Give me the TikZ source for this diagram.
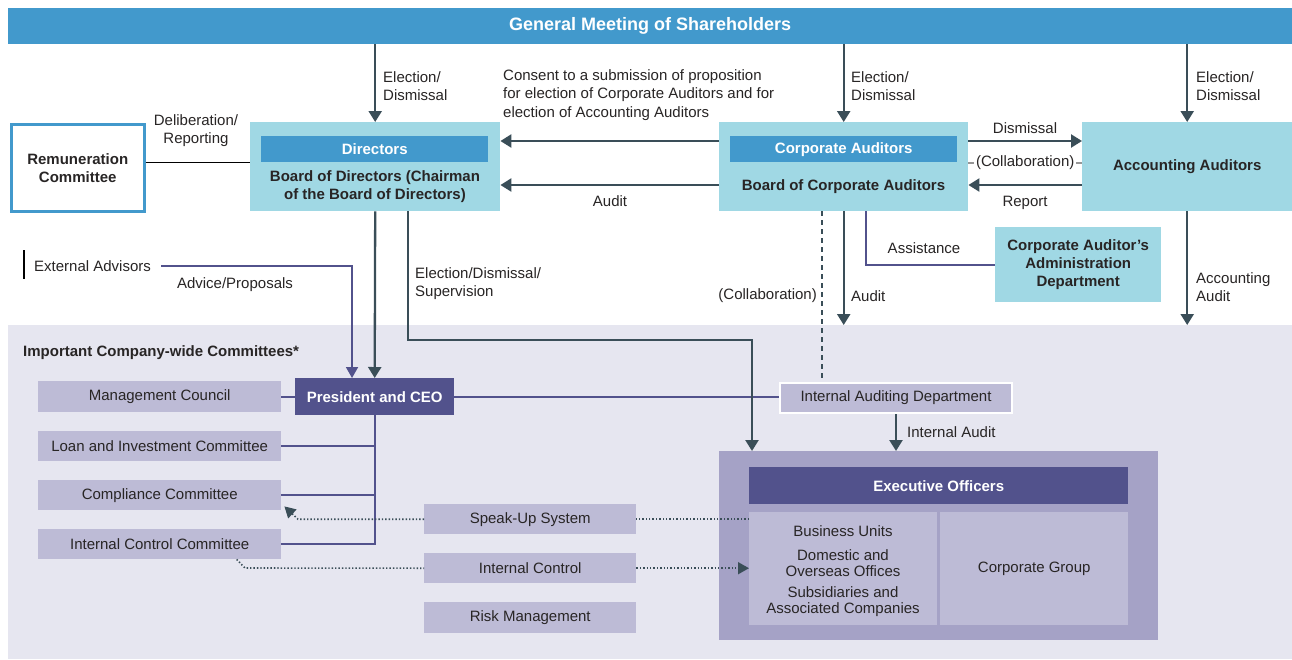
\documentclass[tikz,border=0pt]{standalone}
\usepackage{fontspec}
\setmainfont{Liberation Sans}
\usetikzlibrary{arrows.meta}
\definecolor{topblue}{RGB}{66,153,204}
\definecolor{lcyan}{RGB}{160,216,228}
\definecolor{darkl}{RGB}{58,78,88}
\definecolor{dpurp}{RGB}{82,82,140}
\definecolor{lav}{RGB}{230,230,240}
\definecolor{cfill}{RGB}{189,187,214}
\definecolor{exfill}{RGB}{165,162,198}
\definecolor{txt}{RGB}{40,37,37}
\definecolor{collgray}{RGB}{150,150,150}
\begin{document}
\begin{tikzpicture}[x=1pt,y=-1pt, font=\fontsize{15}{18}\selectfont, text=txt,
  box/.style={anchor=north west, inner sep=0pt, align=center, draw=none},
  ttl/.style={font=\fontsize{15}{18}\selectfont\bfseries, align=center, inner sep=0pt},
  lbl/.style={align=left, inner sep=0pt},
  arr/.style={draw=darkl, line width=2.3pt, -{Triangle[width=13pt,length=11pt]}},
  parr/.style={draw=dpurp, line width=1.8pt, -{Triangle[width=12pt,length=11pt]}},
  pl/.style={draw=dpurp, line width=1.8pt},
  dotl/.style={draw=darkl, line width=1.6pt, dash pattern=on 1.4pt off 2pt},
  dotarr/.style={dotl, -{Triangle[width=12pt,length=11pt]}},
  dashl/.style={draw=darkl, line width=2pt, dash pattern=on 5pt off 4pt}]
\useasboundingbox (0,0) rectangle (1292,659);
\fill[white] (0,0) rectangle (1292,659);
% backgrounds
\node[box, fill=topblue, minimum width=1284, minimum height=36] (gm) at (8,8) {};
\node[font=\fontsize{18}{21}\selectfont\bfseries, text=white] at (gm.center) {General Meeting of Shareholders};
\node[box, fill=lav, minimum width=1284, minimum height=334] (lower) at (8,325) {};
% upper boxes
\node[box, fill=white, draw=topblue, line width=2.5pt, minimum width=133, minimum height=87, ttl] (rem) at (10,123) {Remuneration\\Committee};
\node[box, fill=lcyan, minimum width=250, minimum height=89] (dir) at (250,122) {};
\node[box, fill=topblue, minimum width=227, minimum height=26, ttl, text=white] (dirbar) at (261,136) {Directors};
\node[ttl] (dirtxt) at (375,187) {Board of Directors (Chairman\\of the Board of Directors)};
\node[box, fill=lcyan, minimum width=249, minimum height=89] (ca) at (719,122) {};
\node[box, fill=topblue, minimum width=227, minimum height=26, ttl, text=white] (cabar) at (730,136) {Corporate Auditors};
\node[ttl] (catxt) at (843.5,187) {Board of Corporate Auditors};
\node[box, fill=lcyan, minimum width=210, minimum height=89, ttl] (aa) at (1082,122) {Accounting Auditors};
\node[box, fill=lcyan, minimum width=166, minimum height=75, ttl] (adm) at (995,227) {Corporate Auditor’s\\Administration\\Department};
% lower boxes
\node[anchor=west, font=\fontsize{15}{18}\selectfont\bfseries, inner sep=0pt] (icw) at (23,353) {Important Company-wide Committees*};
\node[box, fill=dpurp, minimum width=159, minimum height=37, ttl, text=white] (pres) at (295,378) {President and CEO};
\node[box, fill=cfill, minimum width=243, minimum height=31] (mc) at (38,381) {Management Council};
\node[box, fill=cfill, minimum width=243, minimum height=30] (lic) at (38,431) {Loan and Investment Committee};
\node[box, fill=cfill, minimum width=243, minimum height=30] (cc) at (38,480) {Compliance Committee};
\node[box, fill=cfill, minimum width=243, minimum height=30] (icc) at (38,529) {Internal Control Committee};
\node[box, fill=cfill, draw=white, line width=2pt, minimum width=232, minimum height=30] (iad) at (779,382) {Internal Auditing Department};
\node[box, fill=exfill, minimum width=439, minimum height=189] (exec) at (719,451) {};
\node[box, fill=dpurp, minimum width=379, minimum height=37, ttl, text=white] (eo) at (749,467) {Executive Officers};
\node[box, fill=cfill, minimum width=188, minimum height=113] (bu) at (749,512) {};
\node[box, fill=cfill, minimum width=188, minimum height=113] (cg) at (940,512) {Corporate Group};
\node[inner sep=0pt] (but) at (843,531) {Business Units};
\node[inner sep=0pt, align=center, font=\fontsize{15}{16}\selectfont] (dot) at (843,563) {Domestic and\\Overseas Offices};
\node[inner sep=0pt, align=center, font=\fontsize{15}{16}\selectfont] (sac) at (843,602) {Subsidiaries and\\Associated Companies};
\node[box, fill=cfill, minimum width=212, minimum height=30] (su) at (424,504) {Speak-Up System};
\node[box, fill=cfill, minimum width=212, minimum height=30] (ic) at (424,553) {Internal Control};
\node[box, fill=cfill, minimum width=212, minimum height=31] (rm) at (424,602) {Risk Management};
\node[anchor=west, inner sep=0pt] (ext) at (34,266) {External Advisors};
\draw[black, line width=2pt] (24,250) -- (24,279);
% labels
\node[lbl, anchor=west] at (383,86) {Election/\\Dismissal};
\node[lbl, anchor=west] at (851,86) {Election/\\Dismissal};
\node[lbl, anchor=west] at (1196,86) {Election/\\Dismissal};
\node[lbl, anchor=west, font=\fontsize{15}{18.5}\selectfont] at (503,95) {Consent to a submission of proposition\\for election of Corporate Auditors and for\\election of Accounting Auditors};
\node[inner sep=0pt] at (610,201) {Audit};
\node[inner sep=0pt] at (1025,128) {Dismissal};
\node[inner sep=0pt] at (1025,203) {Report};
\node[inner sep=0pt, align=center] at (196,131) {Deliberation/\\Reporting};
\node[lbl, anchor=west] at (415,284) {Election/Dismissal/\\Supervision};
\node[inner sep=0pt] at (235,285) {Advice/Proposals};
\node[inner sep=0pt, anchor=east] at (817,296) {(Collaboration)};
\node[inner sep=0pt, anchor=west] at (851,296) {Audit};
\node[inner sep=0pt] at (924,248) {Assistance};
\node[lbl, anchor=west] at (1196,287) {Accounting\\Audit};
\node[inner sep=0pt, anchor=west] at (907,432) {Internal Audit};
% connectors
\draw[arr] (gm.south -| dir.north) -- (dir.north);
\draw[arr] (gm.south -| ca.north) -- (ca.north);
\draw[arr] (gm.south -| aa.north) -- (aa.north);
\draw[arr] (ca.west |- 0,141) -- (dir.east |- 0,141);
\draw[arr] (ca.west |- 0,185) -- (dir.east |- 0,185);
\draw[arr] (ca.east |- 0,141) -- (aa.west |- 0,141);
\draw[arr] (aa.west |- 0,185) -- (ca.east |- 0,185);
\draw[collgray, line width=1.2pt] (ca.east |- 0,163) -- node[fill=white, inner xsep=2pt, inner ysep=1pt, text=txt] {(Collaboration)} (aa.west |- 0,163);
\draw[black, line width=1pt] (rem.east |- 0,162) -- (dir.west |- 0,162);
\draw[pl] (mc.east) -- (pres.west);
\draw[pl] (pres.east) -- (pres.east -| iad.west);
\draw[pl] (pres.south) -- (pres.south |- icc.east) -- (icc.east);
\draw[pl] (lic.east) -- (lic.east -| pres.south);
\draw[pl] (cc.east) -- (cc.east -| pres.south);
\draw[arr] (dir.south) -- (pres.north);
\draw[arr] (dir.south -| 408,0) -- (408,340) -| ([xshift=33pt]exec.north west);
\draw[parr] ([xshift=10pt]ext.east) -| (pres.north -| 352,0);
\draw[dashl] (ca.south -| 822,0) -- (iad.north -| 822,0);
\draw[arr] (ca.south) -- (ca.south |- lower.north);
\draw[pl] (ca.south -| 866,0) |- (adm.west);
\draw[arr] (aa.south) -- (aa.south |- lower.north);
\draw[arr] (iad.south) -- (iad.south |- exec.north);
\draw[dotl] (bu.west |- su.east) -- (su.east);
\draw[dotarr] (su.west) -- (su.west -| 298,0) -- ([xshift=3pt,yshift=4pt]cc.south east);
\draw[dotl] ([xshift=77pt]icc.south) -- (245,568) -- (ic.west);
\draw[dotarr] (ic.east) -- (bu.west |- ic.east);
\end{tikzpicture}
\end{document}
